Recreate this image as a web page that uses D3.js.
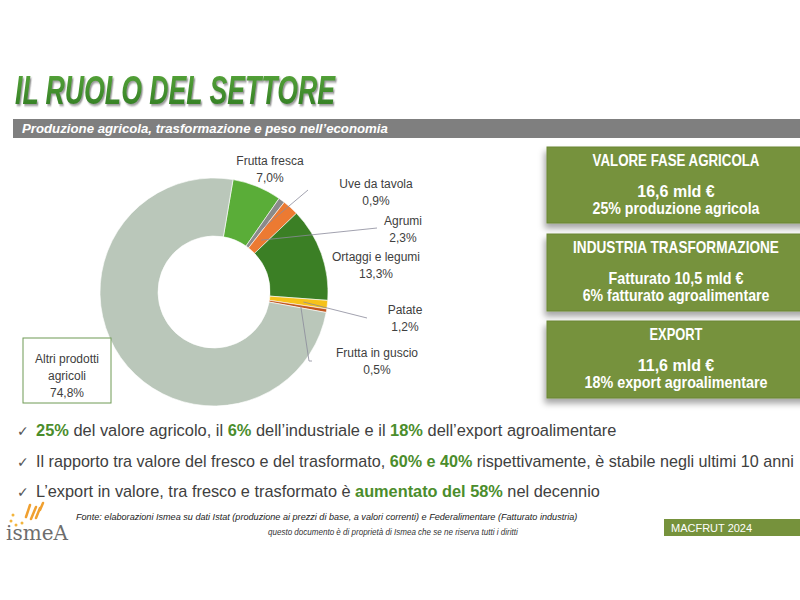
<!DOCTYPE html>
<html><head><meta charset="utf-8">
<script src="https://cdn.jsdelivr.net/npm/d3@7"></script>
<style>body{margin:0;background:#fff}svg{display:block}</style>
</head><body>
<script>
// ---- data ----
const categories = ["Frutta fresca","Uve da tavola","Agrumi","Ortaggi e legumi","Patate","Frutta in guscio","Altri prodotti agricoli"];
const shares = [7.0, 0.9, 2.3, 13.3, 1.2, 0.5, 74.8];
const shareLabels = ["7,0%","0,9%","2,3%","13,3%","1,2%","0,5%","74,8%"];
const sliceColors = ["#5aad38","#8a8a8a","#ec7a32","#3b7f25","#f6c21a","#c2571e","#bac7ba"];
const boxTitles = ["VALORE FASE AGRICOLA","INDUSTRIA TRASFORMAZIONE","EXPORT"];
const boxLine1 = ["16,6 mld €","Fatturato 10,5 mld €","11,6 mld €"];
const boxLine2 = ["25% produzione agricola","6% fatturato agroalimentare","18% export agroalimentare"];
const bullets = [
  [["25%",1],[" del valore agricolo, il ",0],["6%",1],[" dell’industriale e il ",0],["18%",1],[" dell’export agroalimentare",0]],
  [["Il rapporto tra valore del fresco e del trasformato, ",0],["60% e 40%",1],[" rispettivamente, è stabile negli ultimi 10 anni",0]],
  [["L’export in valore, tra fresco e trasformato è ",0],["aumentato del 58%",1],[" nel decennio",0]]
];

const W=800,H=600;
const svg=d3.select("body").append("svg").attr("width",W).attr("height",H);
const defs=svg.append("defs");
const f=defs.append("filter").attr("id","sh").attr("x","-20%").attr("y","-20%").attr("width","140%").attr("height","150%");
f.append("feDropShadow").attr("dx",-2).attr("dy",5).attr("stdDeviation",3).attr("flood-color","#000").attr("flood-opacity",0.35);
const ft=defs.append("filter").attr("id","tsh").attr("x","-5%").attr("y","-20%").attr("width","110%").attr("height","150%");
ft.append("feDropShadow").attr("dx",2).attr("dy",2).attr("stdDeviation",1).attr("flood-color","#555").attr("flood-opacity",0.6);
const sans="'Liberation Sans',Arial,Helvetica,sans-serif";

// squeeze a text horizontally to a target width using a transform (anchor: start|middle)
function squeeze(sel,x,y,target,anchor){
  const n=sel.node().getComputedTextLength();
  const s=Math.min(1,target/n);
  sel.attr("x",0).attr("y",0).attr("text-anchor",anchor||"start")
     .attr("transform",`translate(${x},${y}) scale(${s},1)`);
  return sel;
}

// ---- title ----
const tg=defs.append("linearGradient").attr("id","tg").attr("x1",0).attr("y1",0).attr("x2",0).attr("y2",1);
tg.append("stop").attr("offset","0%").attr("stop-color","#5aa83c");
tg.append("stop").attr("offset","100%").attr("stop-color","#2f7a22");
squeeze(svg.append("text").text("IL RUOLO DEL SETTORE")
  .attr("font-family",sans).attr("font-size",40).attr("font-weight","bold").attr("font-style","italic")
  .attr("fill","url(#tg)").attr("filter","url(#tsh)"),15,104,320);

svg.append("rect").attr("x",13).attr("y",119).attr("width",W-13).attr("height",19).attr("fill","#7f7f7f");
squeeze(svg.append("text").text("Produzione agricola, trasformazione e peso nell’economia")
  .attr("font-family",sans).attr("font-size",13.5).attr("font-weight","bold").attr("font-style","italic").attr("fill","#fff"),22,133,366);

// ---- donut ----
const cx=214,cy=292,R=114,r0=56;
const sa=0.168;
const pie=d3.pie().sort(null).value(d=>d).startAngle(sa).endAngle(sa+2*Math.PI);
const arcs=pie(shares);
const arc=d3.arc().innerRadius(r0).outerRadius(R);
const g=svg.append("g").attr("transform",`translate(${cx},${cy})`);
g.selectAll("path").data(arcs).join("path").attr("d",arc).attr("fill",(d,i)=>sliceColors[i])
  .attr("stroke","#fff").attr("stroke-width",0.6);

const pt=(i,rad)=>{const a=(arcs[i].startAngle+arcs[i].endAngle)/2;return [cx+rad*Math.sin(a),cy-rad*Math.cos(a)];};
const lines=[
  [1,[[...pt(1,75)],[308,190]]],
  [2,[[...pt(2,70)],[377,228]]],
  [4,[[...pt(4,90)],[367,318]]],
  [5,[[...pt(5,88)],[309,361],[312,361]]]
];
lines.forEach(([i,pts])=>svg.append("path").attr("d",d3.line()(pts)).attr("fill","none").attr("stroke","#8a8a9a").attr("stroke-width",0.8));

const labelPos=[[270,165],[376,188],[403,225],[376,261],[405,314],[377,357]];
labelPos.forEach(([x,y],i)=>{
  const t=svg.append("text").attr("x",x).attr("y",y).attr("text-anchor","middle").attr("font-family",sans).attr("font-size",12).attr("fill","#404040");
  t.append("tspan").attr("x",x).text(categories[i]);
  t.append("tspan").attr("x",x).attr("dy",16.5).text(shareLabels[i]);
});
svg.append("rect").attr("x",23).attr("y",338).attr("width",88).attr("height",65).attr("fill","#fff").attr("stroke","#6f9a55").attr("stroke-width",1);
const at=svg.append("text").attr("text-anchor","middle").attr("font-family",sans).attr("font-size",12).attr("fill","#404040");
[["Altri prodotti",363],["agricoli",380],[shareLabels[6],397]].forEach(([s,y])=>at.append("tspan").attr("x",67).attr("y",y).text(s));

// ---- right boxes ----
const boxY=[147,234,321], boxH=[76,77,77];
const wTitle=[167,206,53], wL1=[86,135,86], wL2=[167,187,183];
boxY.forEach((y,i)=>{
  svg.append("rect").attr("x",547).attr("y",y).attr("width",270).attr("height",boxH[i]).attr("fill","#76923c").attr("stroke","#6a8533").attr("filter","url(#sh)");
  const tx=676;
  squeeze(svg.append("text").attr("font-family",sans).attr("font-size",16).attr("font-weight","bold").attr("fill","#fff").text(boxTitles[i]),tx,y+19,wTitle[i],"middle");
  squeeze(svg.append("text").attr("font-family",sans).attr("font-size",16).attr("font-weight","bold").attr("fill","#fff").text(boxLine1[i]),tx,y+50,wL1[i],"middle");
  squeeze(svg.append("text").attr("font-family",sans).attr("font-size",16).attr("font-weight","bold").attr("fill","#fff").text(boxLine2[i]),tx,y+67,wL2[i],"middle");
});

// ---- bullets ----
const bY=[436,467,497], bW=[581,758,564];
bullets.forEach((parts,i)=>{
  svg.append("text").attr("x",17).attr("y",bY[i]).attr("font-family","'DejaVu Sans',sans-serif").attr("font-size",14).attr("fill","#555").text("✓");
  const t=svg.append("text").attr("font-family",sans).attr("font-size",17).attr("fill","#404040");
  parts.forEach(([s,b])=>t.append("tspan").text(s).attr("font-weight",b?"bold":"normal").attr("fill",b?"#4b8d2c":"#404040"));
  squeeze(t,36,bY[i],bW[i]);
});

// ---- footer ----
const logo=svg.append("g");
[[26,517,30,505],[31,519,36,507],[36,518,40,508],[40,510,43,503]].forEach(([x1,y1,x2,y2])=>
  logo.append("line").attr("x1",x1).attr("y1",y1).attr("x2",x2).attr("y2",y2).attr("stroke","#f0a030").attr("stroke-width",2.5).attr("stroke-linecap","round"));
[[11,521],[16,525],[22,523],[13,515]].forEach(([x,y])=>logo.append("circle").attr("cx",x).attr("cy",y).attr("r",1.5).attr("fill","#f2b43c"));
logo.append("text").attr("x",6).attr("y",540).attr("font-family","'DejaVu Serif',serif").attr("font-size",20).attr("fill","#6d6d6d").text("ismeA");

squeeze(svg.append("text").attr("font-family",sans).attr("font-size",9.5).attr("font-style","italic").attr("fill","#222")
  .text("Fonte: elaborazioni Ismea su dati Istat (produzione ai prezzi di base, a valori  correnti) e Federalimentare (Fatturato industria)"),76,520,502);
squeeze(svg.append("text").attr("font-family",sans).attr("font-size",8.5).attr("font-style","italic").attr("fill","#333")
  .text("questo documento è di proprietà di Ismea che se ne riserva tutti i diritti"),268,535,250);
svg.append("rect").attr("x",664).attr("y",519).attr("width",136).attr("height",17).attr("fill","#76923c");
svg.append("text").attr("x",671).attr("y",532).attr("font-family",sans).attr("font-size",11).attr("fill","#fff").text("MACFRUT 2024");
</script>
</body></html>
